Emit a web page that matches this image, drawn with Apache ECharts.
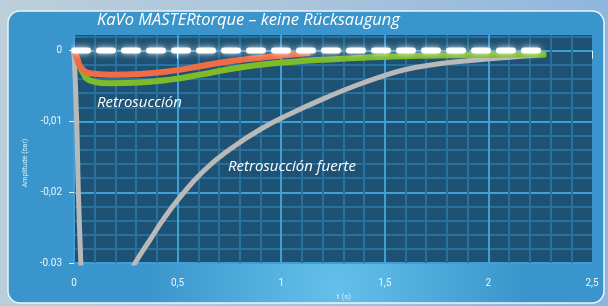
<!DOCTYPE html>
<html><head><meta charset="utf-8">
<script src="https://cdn.jsdelivr.net/npm/echarts@6/dist/echarts.min.js"></script>
<style>html,body{margin:0;padding:0;}#c{width:608px;height:306px;}</style>
</head><body><div id="c"></div>
<script>
// ---- data ----
const xTickValues = [0, 0.5, 1, 1.5, 2, 2.5];
const xTickLabels = ['0', '0,5', '1', '1,5', '2', '2,5'];
const yTickValues = [0, -0.01, -0.02, -0.03];
const yTickLabels = ['0', '-0,01', '-0,02', '-0.03'];

const refT = [0, 2.27];
const refAmp = [0, 0];

const orangeT = [0, 0.0145, 0.029, 0.077, 0.174, 0.319, 0.464, 0.609, 0.754, 0.90, 1.045, 1.14];
const orangeAmp = [0, -0.0010, -0.0022, -0.0032, -0.0034, -0.0033, -0.0029, -0.0022, -0.0015, -0.0010, -0.00058, -0.0003];

const greenT = [0, 0.019, 0.039, 0.077, 0.174, 0.319, 0.464, 0.609, 0.754, 0.90, 1.045, 1.19, 1.335, 1.48, 1.755, 2.074, 2.28];
const greenAmp = [0, -0.0015, -0.0029, -0.0042, -0.0046, -0.0045, -0.0041, -0.0034, -0.0026, -0.0020, -0.0016, -0.0013, -0.0011, -0.0009, -0.0007, -0.0006, -0.0005];

const grayT = [0, 0.013, 0.021, 0.033, 0.045, 0.222, 0.295, 0.3675, 0.432, 0.512, 0.625, 0.754, 0.90, 1.06, 1.22, 1.354, 1.48, 1.596, 1.754, 1.915, 2.074, 2.273];
const grayAmp = [0, -0.01, -0.02, -0.03, -0.040, -0.034, -0.030, -0.0267, -0.0238, -0.0207, -0.0170, -0.0139, -0.0111, -0.0087, -0.0066, -0.0050, -0.0037, -0.0027, -0.0019, -0.0014, -0.0010, -0.0006];

const titleText = 'KaVo MASTERtorque – keine Rücksaugung';
const label1 = 'Retrosucción';
const label2 = 'Retrosucción fuerte';
const xName = 't (s)';
const yName = 'Amplitude (bar)';

// ---- build ----
const zip = (a, b) => a.map((v, i) => [v, b[i]]);
const lookup = (vals, labs) => v => {
  for (let i = 0; i < vals.length; i++) if (Math.abs(vals[i] - v) < 1e-9) return labs[i];
  return '';
};
const MAJOR = '#3ea0d4', MINOR = '#29709c';
const txtFont = 'Roboto, "Liberation Sans", sans-serif';
const itFont = '"Open Sans", "Noto Sans", sans-serif';
const gridLine = {show: true, showMaxLine: false, lineStyle: {color: [MAJOR, MINOR, MINOR, MINOR, MINOR], width: 2}};

const chart = echarts.init(document.getElementById('c'), null, {renderer: 'canvas'});
chart.setOption({
  animation: false,
  backgroundColor: {type: 'linear', x: 0, y: 0, x2: 1, y2: 0.3, colorStops: [
    {offset: 0, color: '#bccfda'}, {offset: 0.5, color: '#a9c4dc'}, {offset: 1, color: '#8fb5de'}]},
  title: {text: titleText, left: 97, top: 12, padding: 0,
    textStyle: {color: '#ffffff', fontSize: 16.5, fontStyle: 'italic', fontWeight: 'normal', fontFamily: itFont}},
  graphic: [
    {type: 'rect', z: -10, shape: {x: 8, y: 11, width: 596, height: 292, r: 12},
      style: {fill: {type: 'radial', x: 0.55, y: 0.95, r: 0.65, colorStops: [
        {offset: 0, color: '#64c0ea'}, {offset: 1, color: '#3995cb'}]},
        stroke: '#eaf5fb', lineWidth: 1.5}},
    {type: 'text', z: 100, left: 97, top: 95,
      style: {text: label1, fill: '#ffffff', font: 'italic 15px ' + itFont}},
    {type: 'text', z: 100, left: 228, top: 159,
      style: {text: label2, fill: '#ffffff', font: 'italic 15px ' + itFont}}
  ],
  grid: {left: 74, top: 35, width: 518, height: 230, show: true,
    backgroundColor: '#1e5274', borderWidth: 0},
  xAxis: [{
    type: 'value', min: 0, max: 2.5, interval: 0.5, offset: 3,
    axisLine: {show: false},
    axisTick: {show: true, length: 8, customValues: xTickValues, lineStyle: {color: '#e2f2fb', width: 1}},
    axisLabel: {customValues: xTickValues, formatter: lookup(xTickValues, xTickLabels),
      color: '#e8f5fc', fontSize: 10, margin: 12, fontFamily: txtFont},
    splitLine: {show: false},
    name: xName, nameLocation: 'middle', nameGap: 26,
    nameTextStyle: {color: '#d8eef9', fontSize: 8, fontFamily: txtFont, padding: [0, 0, 0, 22]}
  }, {
    type: 'value', min: 0, max: 2.5, interval: 0.1, position: 'bottom',
    axisLine: {show: false}, axisTick: {show: false}, axisLabel: {show: false},
    splitLine: gridLine
  }],
  yAxis: [{
    type: 'value', min: -0.03, max: 0.0022, interval: 0.01, offset: 4,
    axisLine: {show: false},
    axisTick: {show: true, length: 5, customValues: yTickValues, lineStyle: {color: '#e2f2fb', width: 1}},
    axisLabel: {customValues: yTickValues, formatter: lookup(yTickValues, yTickLabels),
      color: '#e8f5fc', fontSize: 10, margin: 8, fontFamily: txtFont},
    splitLine: {show: false},
    name: yName, nameLocation: 'middle', nameGap: 40,
    nameTextStyle: {color: '#d8eef9', fontSize: 7, fontFamily: txtFont, padding: [0, 28, 0, 0]}
  }, {
    type: 'value', min: -0.03, max: 0.0022, interval: 0.002, position: 'left',
    axisLine: {show: false}, axisTick: {show: false}, axisLabel: {show: false},
    splitLine: gridLine
  }],
  series: [
    {type: 'line', data: zip(grayT, grayAmp), showSymbol: false, smooth: 0.5, clip: true,
      lineStyle: {color: '#b9b9b9', width: 5}},
    {type: 'line', data: zip(greenT, greenAmp), showSymbol: false, smooth: 0.5, clip: true,
      lineStyle: {color: '#7dbb2a', width: 6}},
    {type: 'line', data: zip(orangeT, orangeAmp), showSymbol: false, smooth: 0.5, clip: true,
      lineStyle: {color: '#f06c45', width: 6}},
    {type: 'line', data: zip(refT, refAmp), showSymbol: false, clip: false,
      lineStyle: {color: '#ffffff', width: 6, type: [14, 11], cap: 'round',
        shadowBlur: 6, shadowColor: 'rgba(255,255,255,0.9)'}}
  ]
});
</script></body></html>
